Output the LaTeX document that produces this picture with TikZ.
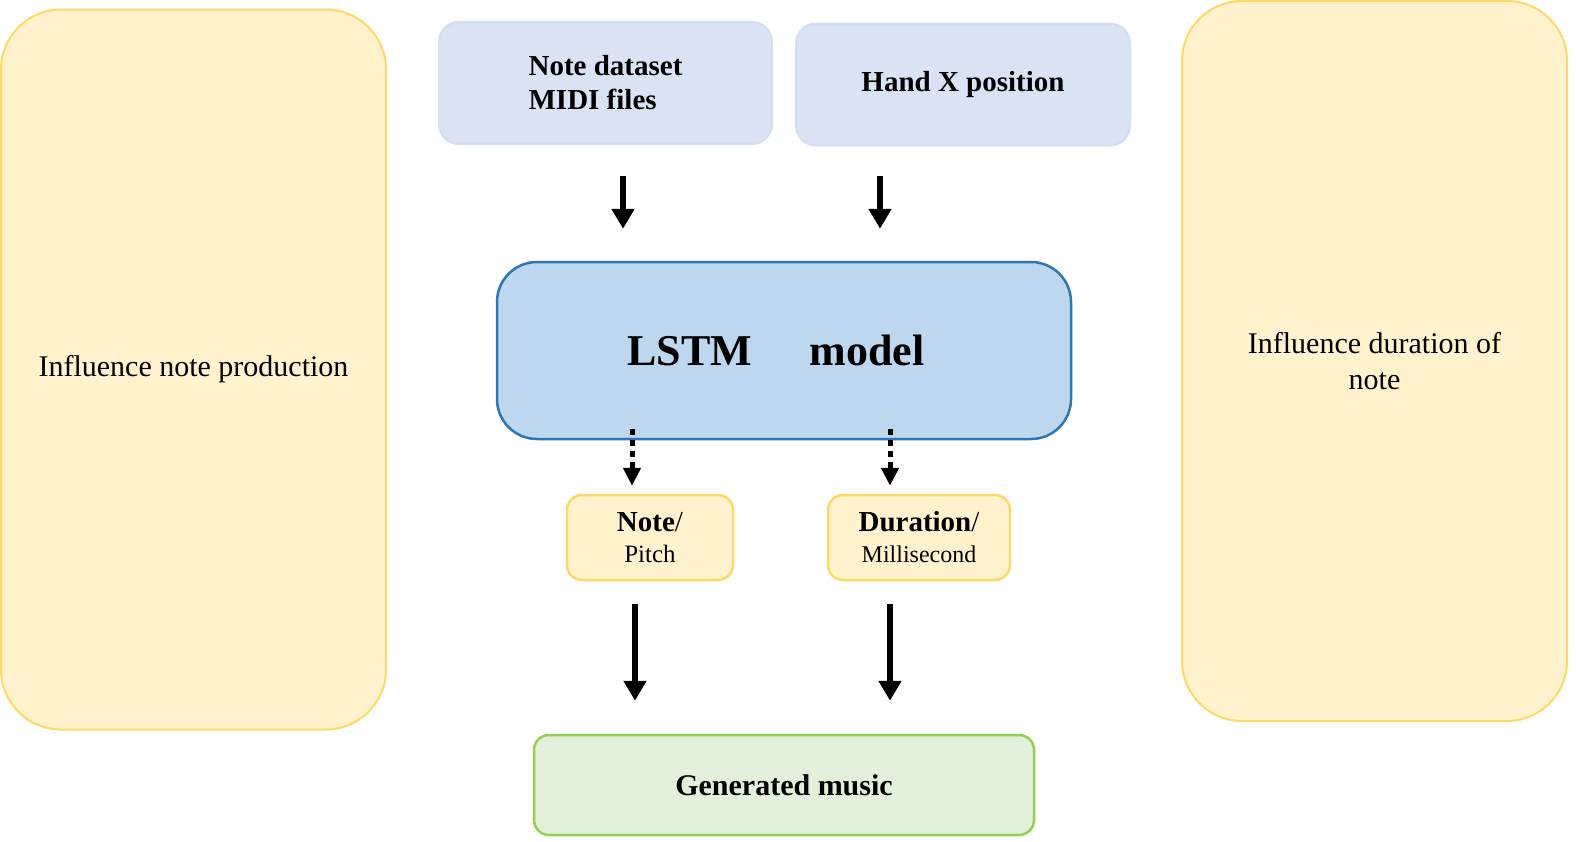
\documentclass[tikz,border=0pt]{standalone}
\usepackage{fontspec}
\setmainfont{Liberation Serif}
\usetikzlibrary{positioning}
\usetikzlibrary{arrows.meta}
\definecolor{inputfill}{HTML}{DAE3F3}
\definecolor{inputline}{HTML}{D2DEF1}
\definecolor{modelfill}{HTML}{BDD7EE}
\definecolor{modelline}{HTML}{2E75B6}
\definecolor{notefill}{HTML}{FFF2CC}
\definecolor{noteline}{HTML}{FFD966}
\definecolor{musicfill}{HTML}{E2EFDA}
\definecolor{musicline}{HTML}{92D050}
\tikzset{
	panel/.style={draw=noteline, fill=notefill, line width=2pt, rectangle, rounded corners=60pt, inner sep=0pt, minimum width=385pt, minimum height=720pt, align=center, font=\fontsize{30}{36}\selectfont},
	inputbox/.style={draw=inputline, fill=inputfill, line width=2pt, rectangle, rounded corners=20pt, inner sep=0pt, minimum width=333pt, minimum height=122pt, font=\fontsize{29}{34}\selectfont\bfseries},
	modelbox/.style={draw=modelline, fill=modelfill, line width=2.5pt, rectangle, rounded corners=40pt, inner sep=0pt, minimum width=574pt, minimum height=177pt, font=\fontsize{44}{50}\selectfont\bfseries},
	outbox/.style={draw=noteline, fill=notefill, line width=2.5pt, rectangle, rounded corners=15pt, inner sep=0pt, minimum height=85pt, align=center, font=\fontsize{29}{33}\selectfont},
	% final result at the bottom
	resultbox/.style={draw=musicline, fill=musicfill, line width=2.5pt, rectangle, rounded corners=15pt, inner sep=0pt, minimum width=500pt, minimum height=100pt, font=\fontsize{30}{34}\selectfont\bfseries},
}

\begin{document}
\begin{tikzpicture}[x=1pt, y=-1pt]
\useasboundingbox (0,0) rectangle (1576,841);

\node (notepanel) [panel] at (193.5,369.5) {Influence note production};

\node (durpanel) [panel] at (1374.5,361) {Influence duration of\\note};

\node (dataset) [inputbox, align=left] at (605.5,83) {Note dataset\\MIDI files};

\node (handx) [inputbox, minimum width=334pt] at (963,84.5) {Hand X position};

\node (lstm) [modelbox] at (784,350.5) {\hspace*{-16pt}LSTM\hspace{1.3em}model};

\node (pitch) [outbox, minimum width=166pt] at (650,537.5) {\textbf{Note}/\\[-2pt]{\fontsize{25}{30}\selectfont Pitch}};

\node (duration) [outbox, minimum width=182pt] at (919,537.5) {\textbf{Duration}/\\[-2pt]{\fontsize{24}{30}\selectfont Millisecond}};

\node (music) [resultbox] at (784,785) {Generated music};

\coordinate (in1) at (623,0);
\coordinate (in2) at (880,0);
\coordinate (out1) at (632,0);
\coordinate (out2) at (890,0);
\coordinate (res1) at (635,0);
\coordinate (res2) at (890,0);

\begin{scope}[black, line width=5.5pt, -{Triangle[width=22pt, length=20pt]}]
	\draw [shorten <=31pt, shorten >=32pt] (in1 |- dataset.south) -- (in1 |- lstm.north);
	\draw [shorten <=29pt, shorten >=32pt] (in2 |- handx.south) -- (in2 |- lstm.north);
	\draw [shorten <=23pt, shorten >=33pt] (res1 |- pitch.south) -- (res1 |- music.north);
	\draw [shorten <=23pt, shorten >=33pt] (res2 |- duration.south) -- (res2 |- music.north);
\end{scope}

\begin{scope}[black, line width=5pt, dash pattern=on 6pt off 5pt, -{Triangle[width=17pt, length=18pt]}]
	\draw [shorten <=-11pt, shorten >=8pt] (out1 |- lstm.south) -- (out1 |- pitch.north);
	\draw [shorten <=-11pt, shorten >=8pt] (out2 |- lstm.south) -- (out2 |- duration.north);
\end{scope}
\end{tikzpicture}
\end{document}
